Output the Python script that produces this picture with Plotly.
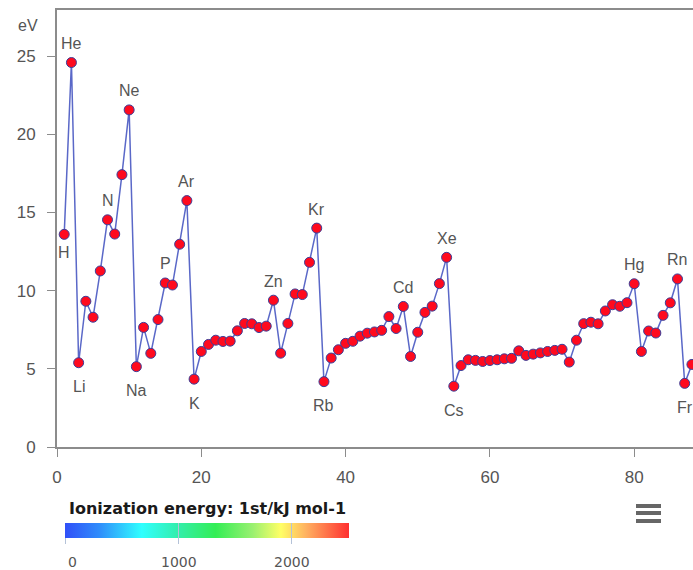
import plotly.graph_objects as go

# Atomic number and first ionization energy (eV)
atomic_number = list(range(1, 89))
ionization_ev = [
    13.60, 24.59, 5.39, 9.32, 8.30, 11.26, 14.53, 13.62, 17.42, 21.56,
    5.14, 7.65, 5.99, 8.15, 10.49, 10.36, 12.97, 15.76, 4.34, 6.11,
    6.56, 6.83, 6.75, 6.77, 7.43, 7.90, 7.88, 7.64, 7.73, 9.39,
    6.00, 7.90, 9.79, 9.75, 11.81, 14.00, 4.18, 5.69, 6.22, 6.63,
    6.76, 7.09, 7.28, 7.36, 7.46, 8.34, 7.58, 8.99, 5.79, 7.34,
    8.61, 9.01, 10.45, 12.13, 3.89, 5.21, 5.58, 5.54, 5.47, 5.53,
    5.58, 5.64, 5.67, 6.15, 5.86, 5.94, 6.02, 6.11, 6.18, 6.25,
    5.43, 6.83, 7.89, 7.98, 7.88, 8.70, 9.10, 9.00, 9.23, 10.44,
    6.11, 7.42, 7.29, 8.42, 9.22, 10.75, 4.07, 5.28,
]

# Labelled elements: symbol, atomic number, placement
label_symbols = ["H", "He", "Li", "N", "Ne", "Na", "P", "Ar", "K", "Zn",
                 "Kr", "Rb", "Cd", "Xe", "Cs", "Hg", "Rn", "Fr"]
label_z = [1, 2, 3, 7, 10, 11, 15, 18, 19, 30, 36, 37, 48, 54, 55, 80, 86, 87]
label_pos = ["below", "above", "below", "above", "above", "below", "above", "above",
             "below", "above", "above", "below", "above", "above", "below",
             "above", "above", "below"]

x_ticks = [0, 20, 40, 60, 80]
y_ticks = [0, 5, 10, 15, 20, 25]
scale_ticks = [0, 1000, 2000]
scale_max = 2510
scale_title = "Ionization energy: 1st/kJ mol-1"

W, H = 693, 570
ML, MT, MB = 57, 10, 123
PW, PH = W - ML, H - MT - MB

BAR_LEFT, BAR_LEN, BAR_TOP, BAR_THICK = 66, 284, 523, 15
BAR_X_FIX = 5  # plotly places horizontal bars slightly left of x

colorscale = [[0.0, "#3050f8"], [0.12, "#2f8cfb"], [0.27, "#30ffff"],
              [0.40, "#33eeaa"], [0.53, "#33ee55"], [0.66, "#99f070"],
              [0.76, "#ffff66"], [0.85, "#ffb060"], [1.0, "#ff3030"]]

fig = go.Figure()

fig.add_trace(go.Scatter(
    x=atomic_number, y=ionization_ev, mode="lines+markers",
    line=dict(color="#5a68c8", width=1.5),
    marker=dict(size=10, color="#ff0a1e", line=dict(color="#3a3f9a", width=1)),
    showlegend=False, hoverinfo="x+y",
))


def scale_bar(ticks, ticklen):
    return go.Scatter(
        x=[atomic_number[1]], y=[ionization_ev[1]], mode="markers",
        marker=dict(
            size=1, opacity=0, color=[0], cmin=0, cmax=scale_max,
            colorscale=colorscale, showscale=True,
            colorbar=dict(
                orientation="h", xref="container", yref="container",
                x=(BAR_LEFT + BAR_X_FIX) / W, xanchor="left",
                y=(H - BAR_TOP) / H, yanchor="top",
                xpad=0, ypad=0,
                len=BAR_LEN, lenmode="pixels", thickness=BAR_THICK, thicknessmode="pixels",
                outlinewidth=0,
                tickmode="array", tickvals=scale_ticks,
                ticks=ticks, ticklen=ticklen, tickcolor="#b4c2d8", tickwidth=1,
                showticklabels=False,
            ),
        ),
        showlegend=False, hoverinfo="skip",
    )


# colour scale: outside ticks, then an identical bar on top with inside grid lines
fig.add_trace(scale_bar("outside", 6))
fig.add_trace(scale_bar("inside", BAR_THICK))

annotations = []
for sym, z, pos in zip(label_symbols, label_z, label_pos):
    val = ionization_ev[z - 1]
    if pos == "above":
        shift = 19
    else:
        shift = -18 if sym == "H" else -24
    annotations.append(dict(
        x=z, y=val, text=sym, showarrow=False, yshift=shift,
        font=dict(size=16, color="#555555", family="Liberation Sans"),
    ))

# "eV" unit label
annotations.append(dict(
    xref="paper", yref="paper", x=(28 - ML) / PW, y=(H - MB - 25) / PH,
    text="eV", showarrow=False, xanchor="center", yanchor="middle",
    font=dict(size=16, color="#555555", family="Liberation Sans"),
))

# colour scale title and tick labels
annotations.append(dict(
    xref="paper", yref="paper", x=(67 - ML) / PW, y=(H - MB - 508) / PH,
    text="<b>" + scale_title + "</b>", showarrow=False, xanchor="left", yanchor="middle",
    font=dict(size=16, color="#1a1a1a", family="DejaVu Sans"),
))
for t in scale_ticks:
    xpix = BAR_LEFT + BAR_LEN * t / scale_max
    annotations.append(dict(
        xref="paper", yref="paper", x=(xpix - ML) / PW, y=(H - MB - 562) / PH,
        text=str(t), showarrow=False, xanchor="left" if t == 0 else "center",
        yanchor="middle",
        font=dict(size=14, color="#555555", family="DejaVu Sans"),
    ))

# menu icon
shapes = []
for ypix in [506, 513, 521]:
    shapes.append(dict(
        type="rect", xref="paper", yref="paper",
        x0=(636 - ML) / PW, x1=(661 - ML) / PW,
        y0=(H - MB - ypix - 2) / PH, y1=(H - MB - ypix + 2) / PH,
        fillcolor="#666666", line=dict(width=0),
    ))

fig.update_layout(
    width=W, height=H,
    margin=dict(l=ML, r=0, t=MT, b=MB, autoexpand=False),
    plot_bgcolor="white", paper_bgcolor="white",
    annotations=annotations, shapes=shapes,
    xaxis=dict(
        range=[0, 88.15], tickmode="array", tickvals=x_ticks,
        showgrid=False, zeroline=False,
        showline=True, linecolor="#8c8c8c", linewidth=2, mirror=True,
        ticks="outside", ticklen=8, tickcolor="#8c8c8c", tickwidth=1,
        ticklabelstandoff=6,
        tickfont=dict(size=17, color="#555555", family="Liberation Sans"),
    ),
    yaxis=dict(
        range=[0, 27.95], tickmode="array", tickvals=y_ticks,
        showgrid=False, zeroline=False,
        showline=True, linecolor="#8c8c8c", linewidth=2,
        ticks="outside", ticklen=8, tickcolor="#8c8c8c", tickwidth=1,
        ticklabelstandoff=8,
        tickfont=dict(size=17, color="#555555", family="Liberation Sans"),
    ),
)

fig.write_html("out.html")
